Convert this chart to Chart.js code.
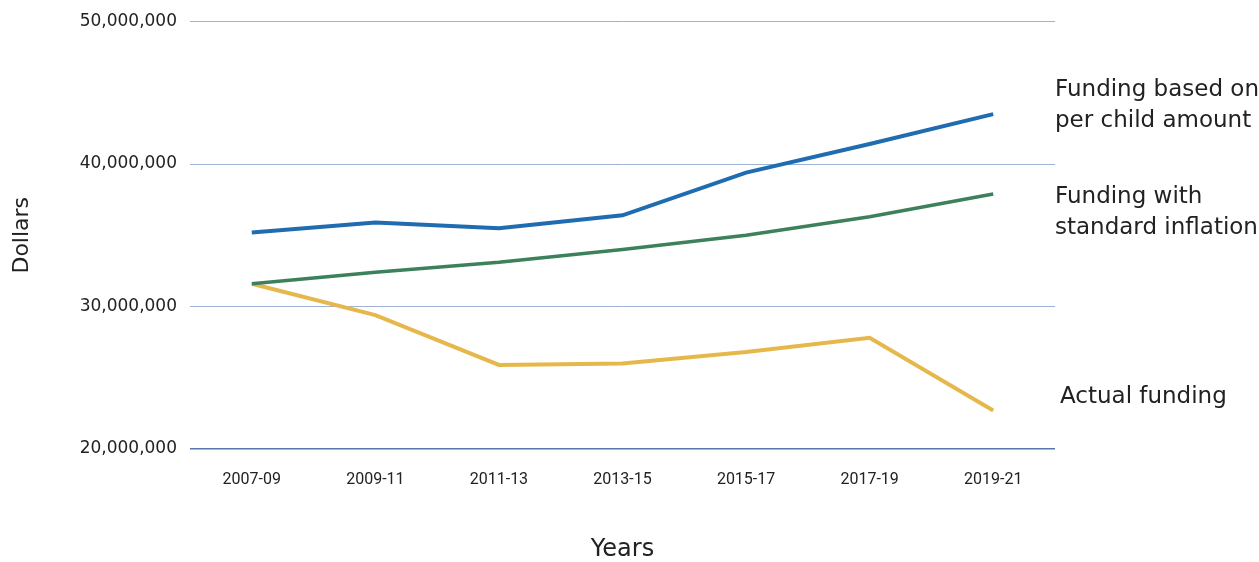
<!DOCTYPE html>
<html lang="en">
<head>
<meta charset="utf-8">
<title>Funding chart</title>
<script src="https://cdn.jsdelivr.net/npm/chart.js@4.4.1/dist/chart.umd.min.js"></script>
<style>
  html, body { margin: 0; padding: 0; background: #fff; }
  #wrap { width: 1259px; height: 562px; }
</style>
</head>
<body>
<div id="wrap"><canvas id="myChart" width="1259" height="562"></canvas></div>
<script>
// data
var years = ["2007-09", "2009-11", "2011-13", "2013-15", "2015-17", "2017-19", "2019-21"];
var perChild = [35200000, 35900000, 35500000, 36400000, 39400000, 41400000, 43500000];
var inflation = [31600000, 32400000, 33100000, 34000000, 35000000, 36300000, 37900000];
var actual = [31600000, 29400000, 25900000, 26000000, 26800000, 27800000, 22700000];
var yTicks = [20000000, 30000000, 40000000, 50000000];

var lineLabels = [
    { lines: ["Funding based on", "per child amount"], dx: 0, y: 90 },
    { lines: ["Funding with", "standard inflation"], dx: 0, y: 197 },
    { lines: ["Actual funding"], dx: 5, y: 397 }
];

// right hand labels next to the line ends
var labelPlugin = {
    id: "sideLabels",
    afterDraw: function (chart) {
        var ctx = chart.ctx;
        var x0 = chart.chartArea.right;
        ctx.save();
        ctx.fillStyle = "#222";
        ctx.font = "23px 'DejaVu Sans'";
        ctx.textBaseline = "middle";
        ctx.textAlign = "left";
        lineLabels.forEach(function (l) {
            l.lines.forEach(function (t, i) {
                ctx.fillText(t, x0 + l.dx, l.y + i * 31);
            });
        });
        ctx.restore();
    }
};

var ctx = document.getElementById("myChart").getContext("2d");
var myChart = new Chart(ctx, {
    type: "line",
    data: {
        labels: years,
        datasets: [
            { label: "Funding based on per child amount", data: perChild, borderColor: "#1f6db0", borderWidth: 4 },
            { label: "Funding with standard inflation", data: inflation, borderColor: "#3d805c", borderWidth: 3.5 },
            { label: "Actual funding", data: actual, borderColor: "#e6b84c", borderWidth: 4 }
        ]
    },
    options: {
        responsive: false,
        animation: false,
        layout: { padding: { top: 12, right: 204, left: 0, bottom: 0 } },
        elements: { point: { radius: 0 }, line: { tension: 0 } },
        plugins: { legend: { display: false }, tooltip: { enabled: false } },
        scales: {
            x: {
                offset: true,
                grid: { display: false },
                border: { display: false },
                ticks: { color: "#222", padding: 13, font: { family: "Roboto", size: 16 } },
                title: { display: true, text: "Years", color: "#222", font: { family: "'DejaVu Sans'", size: 24, lineHeight: 1 }, padding: { top: 30, bottom: 0 } },
                afterFit: function (s) { s.height = 113; }
            },
            y: {
                min: 20000000,
                max: 50000000,
                afterBuildTicks: function (s) { s.ticks = yTicks.map(function (v) { return { value: v }; }); },
                grid: {
                    drawTicks: false,
                    color: function (c) { return c.tick && c.tick.value === 20000000 ? "#5578a8" : "#9fb2d6"; },
                    lineWidth: function (c) { return c.tick && c.tick.value === 20000000 ? 1.5 : 1; }
                },
                border: { display: false },
                ticks: {
                    color: "#222",
                    padding: 13,
                    font: { family: "'DejaVu Sans'", size: 17, lineHeight: 1 },
                    callback: function (v) { return v.toLocaleString("en-US"); }
                },
                title: { display: true, text: "Dollars", color: "#222", font: { family: "'DejaVu Sans'", size: 22, lineHeight: 1 }, padding: { top: 11, bottom: 0 } },
                afterFit: function (s) { s.width = 190; }
            }
        }
    },
    plugins: [labelPlugin]
});
</script>
</body>
</html>
